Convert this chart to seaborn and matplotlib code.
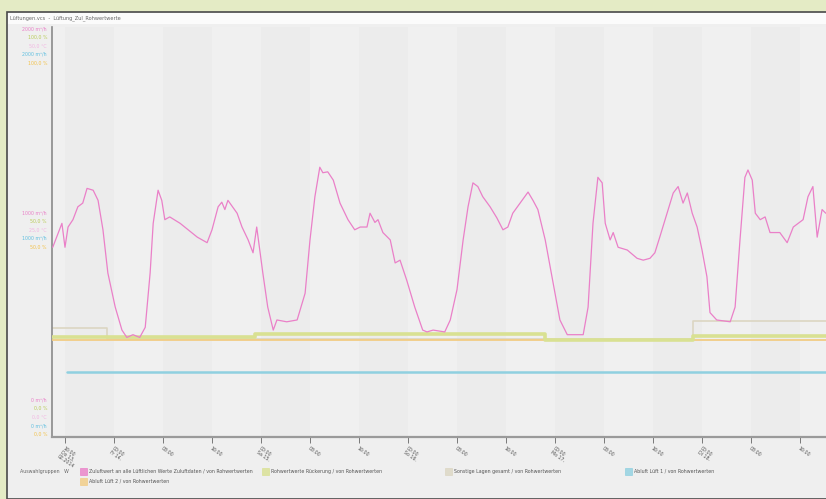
import matplotlib
matplotlib.use('Agg')
import pandas as pd
import matplotlib.pyplot as plt
from matplotlib.patches import Rectangle
import seaborn as sns

# Zuluft (m³/h) over time, hours since first tick
hours = [-2.0, -0.5, 0.0, 0.5, 1.3, 2.1, 2.9, 3.6, 4.6, 5.4, 6.2, 7.0, 8.2, 9.3, 10.1, 11.1,
         12.2, 13.1, 13.9, 14.4, 15.2, 15.8, 16.3, 17.1, 18.8, 20.1, 21.6, 23.2, 24.0, 25.0,
         25.6, 26.1, 26.6, 28.1, 28.9, 29.9, 30.7, 31.3, 32.3, 33.1, 34.0, 34.6, 36.2, 37.9,
         39.2, 40.0, 40.8, 41.6, 42.1, 42.9, 43.8, 44.9, 46.2, 47.3, 48.2, 49.3, 49.8, 50.6,
         51.1, 51.9, 53.1, 53.9, 54.7, 55.8, 57.1, 58.4, 59.1, 60.1, 62.0, 62.9, 64.0, 65.0,
         65.8, 66.6, 67.4, 68.2, 69.4, 70.5, 71.5, 72.3, 73.1, 74.3, 75.6, 76.4, 77.2, 78.4,
         79.7, 80.8, 82.0, 84.6, 85.4, 86.2, 87.0, 87.7, 88.2, 89.0, 89.5, 90.3, 91.8, 93.4,
         94.4, 95.5, 96.3, 97.1, 98.3, 99.3, 100.1, 100.9, 101.6, 102.4, 103.2, 104.0, 104.8,
         105.3, 106.4, 108.6, 109.4, 110.2, 111.0, 111.5, 112.2, 112.7, 113.5, 114.3, 115.1,
         116.7, 117.9, 118.9, 120.5, 121.3, 122.1, 122.8, 123.6, 124.2]
flow = [830, 960, 830, 940, 980, 1050, 1070, 1150, 1140, 1085, 925, 690, 505, 380, 340, 355,
        340, 395, 690, 960, 1140, 1085, 980, 995, 960, 925, 885, 855, 925, 1050,
        1075, 1035, 1085, 1015, 940, 870, 800, 940, 690, 505, 380, 435, 425, 435,
        580, 870, 1105, 1265, 1235, 1240, 1195, 1070, 980, 925, 940, 940, 1015, 965,
        980, 910, 870, 745, 760, 650, 505, 380, 370, 380, 370, 435, 600, 870,
        1050, 1180, 1160, 1105, 1050, 990, 925, 940, 1015, 1070, 1130, 1085, 1035, 870,
        635, 435, 355, 355, 505, 960, 1210, 1180, 960, 870, 910, 830, 815, 770,
        760, 770, 800, 885, 1015, 1125, 1160, 1070, 1125, 1015, 940, 815, 670,
        475, 435, 425, 505, 870, 1210, 1250, 1195, 1015, 980, 995, 910,
        910, 855, 940, 980, 1105, 1160, 885, 1035, 1015]

# step series (same scale)
green_h = [-2.1, 31.0, 78.4, 102.5, 124.3]
green_v = [340, 358, 325, 350, 350]
yellow_h = [-2.1, 124.3]
yellow_v = [328, 328]
gray_h = [-2.1, 6.9, 102.5, 124.3]
gray_v = [390, 334, 428, 428]
cyan_h = [0.3, 124.3]
cyan_v = [152, 152]

tick_hours = list(range(0, 121, 8))
tick_labels = ['16:00\nDo 13.\n02.2014', '00:00\nFr 14.', '08:00', '16:00',
               '00:00\nSa 15.', '08:00', '16:00', '00:00\nSo 16.', '08:00', '16:00',
               '00:00\nMo 17.', '08:00', '16:00', '00:00\nDi 18.', '08:00', '16:00']

legend_names = ['Zuluftwert an alle Lüftlichen Werte Zuluftdaten / von Rohwertwerten',
                'Rohwertwerte Rückerung / von Rohwertwerten',
                'Sonstige Lagen gesamt / von Rohwertwerten',
                'Abluft Lüft 1 / von Rohwertwerten',
                'Abluft Lüft 2 / von Rohwertwerten']

PINK = '#ea80c8'
GREEN = '#d9e192'
YELLOW = '#f2cc84'
GRAY = '#dcd6c2'
CYAN = '#8fd0e0'

W, H = 826, 499
def fx(px):
    return px / W
def fy(py):
    return 1 - py / H

sns.set_style('white')
fig = plt.figure(figsize=(W / 100, H / 100), dpi=100, facecolor='#e4ebc5')

# window frame + title bar
fig.patches.append(Rectangle((fx(7), 0), 1, fy(12), transform=fig.transFigure,
                             facecolor='#efefef', edgecolor='#4a4a4a', lw=1.2, zorder=-3))
fig.patches.append(Rectangle((fx(8), fy(24)), 1, fy(13) - fy(24), transform=fig.transFigure,
                             facecolor='#fbfbfb', edgecolor='none', zorder=-2))
fig.text(fx(10), fy(18), 'Lüftungen.vcs  -  Lüftung_Zul_Rohwertwerte', fontsize=3.6,
         color='#666666', va='center')

ax = fig.add_axes([fx(52), fy(437), 1 - fx(52), fy(27) - fy(437)])
ax.set_zorder(1)
ax.set_facecolor('#ececec')

# subtle vertical bands
for i, t in enumerate(range(-8, 128, 8)):
    if i % 2 == 0:
        ax.axvspan(t, t + 8, color='#f0f0f0', lw=0, zorder=0)

df = pd.DataFrame({'h': hours, 'v': flow})
sns.lineplot(x=gray_h, y=gray_v, ax=ax, color=GRAY, lw=1.2, drawstyle='steps-post', zorder=2)
sns.lineplot(x=yellow_h, y=yellow_v, ax=ax, color=YELLOW, lw=1.3, zorder=3)
sns.lineplot(x=green_h, y=green_v, ax=ax, color=GREEN, lw=2.6, drawstyle='steps-post', zorder=4)
sns.lineplot(x=cyan_h, y=cyan_v, ax=ax, color=CYAN, lw=1.8, zorder=4)
sns.lineplot(data=df, x='h', y='v', ax=ax, color=PINK, lw=0.9, zorder=5)

ax.set_xlim(-2.12, 124.24)
ax.set_ylim(-201, 2027)
ax.set_xlabel('')
ax.set_ylabel('')
ax.set_yticks([])
ax.set_xticks(tick_hours)
ax.set_xticklabels(tick_labels, rotation=-35, ha='left', va='top', rotation_mode='anchor',
                   fontsize=3.4, color='#555555', linespacing=1.1)
ax.tick_params(axis='x', length=4, width=0.6, color='#666666', pad=2, bottom=True)
for s in ['top', 'right']:
    ax.spines[s].set_visible(False)
ax.spines['left'].set_color('#8a8a8a')
ax.spines['left'].set_linewidth(1.2)
ax.spines['bottom'].set_color('#9a9a9a')
ax.spines['bottom'].set_linewidth(1.6)

# left multi-scale labels
scale_cols = [PINK, '#b9cc58', '#f2b6e2', '#5fbfe0', '#f3c24a']
groups = [
    (29, ['2000 m³/h', '100,0 %', '50,0 °C', '2000 m³/h', '100,0 %']),
    (213, ['1000 m³/h', '50,0 %', '25,0 °C', '1000 m³/h', '50,0 %']),
    (400, ['0 m³/h', '0,0 %', '0,0 °C', '0 m³/h', '0,0 %']),
]
for y0, labs in groups:
    for k, (lab, c) in enumerate(zip(labs, scale_cols)):
        fig.text(fx(47), fy(y0 + 8.5 * k), lab, fontsize=3.4, color=c, ha='right', va='center')

# legend
fig.text(fx(20), fy(471), 'Auswahlgruppen   W', fontsize=3.4, color='#666666', va='center')
leg_items = [(80, 471, PINK, legend_names[0]), (262, 471, GREEN, legend_names[1]),
             (445, 471, GRAY, legend_names[2]), (625, 471, CYAN, legend_names[3]),
             (80, 481, YELLOW, legend_names[4])]
for x0, y0, c, name in leg_items:
    fig.patches.append(Rectangle((fx(x0), fy(y0 + 3.5)), 7 / W, 7 / H, transform=fig.transFigure,
                                 facecolor=c, edgecolor=c, alpha=0.8, lw=0.6, zorder=1))
    fig.text(fx(x0 + 9), fy(y0), name, fontsize=3.4, color='#555555', va='center')

fig.savefig('out.png', dpi=100, facecolor=fig.get_facecolor())
